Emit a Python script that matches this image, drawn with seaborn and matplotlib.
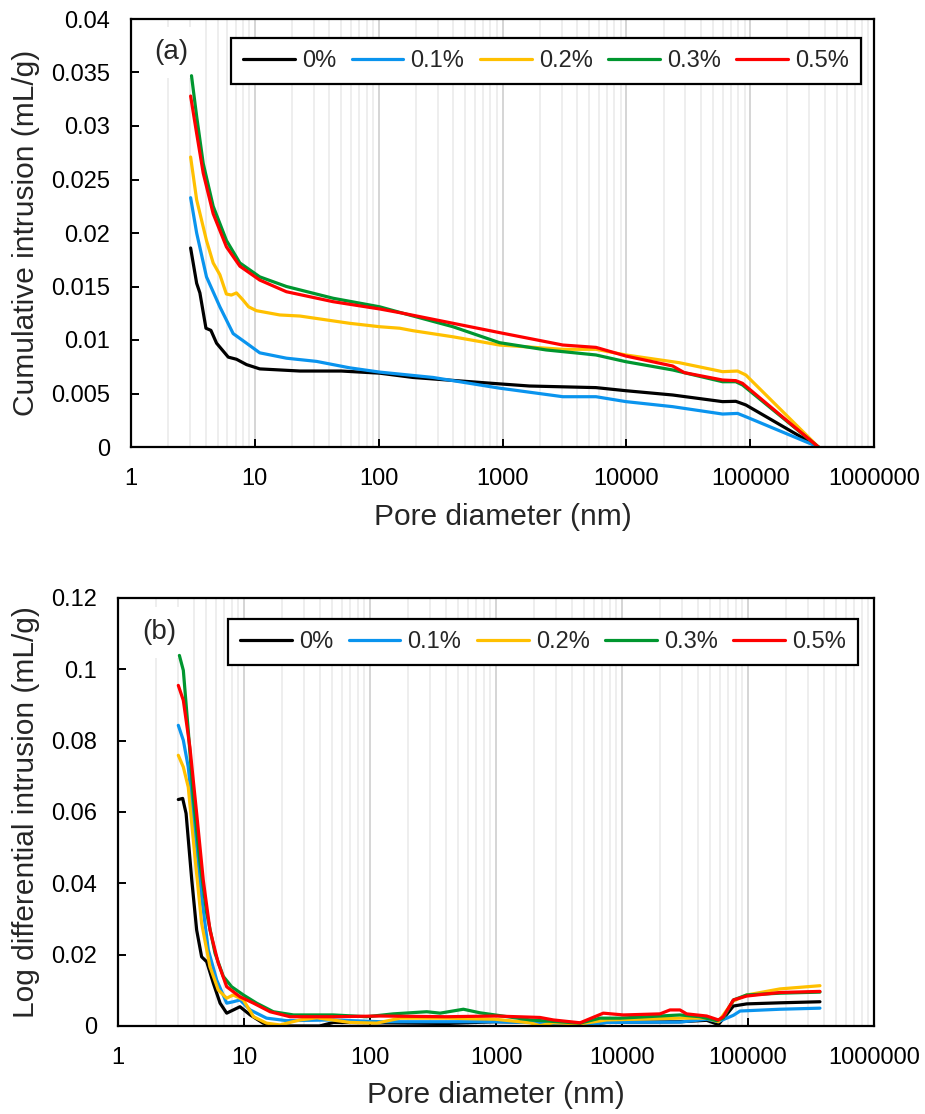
import numpy as np
import pandas as pd
import matplotlib
matplotlib.use("Agg")
import matplotlib.pyplot as plt
import matplotlib.ticker as mticker
import seaborn as sns

# ---------------- data ----------------
series = ["0%", "0.1%", "0.2%", "0.3%", "0.5%"]
colors = ["#000000", "#0A94EE", "#FFC000", "#00962F", "#FF0000"]

# (a) cumulative intrusion
a_x_0 = [3.03, 3.39, 3.6, 4.03, 4.42, 4.91, 6.1, 7.11, 8.57, 10.96, 23.1, 50, 102, 189, 946, 1650, 5690, 9930, 23660, 59840, 76560, 92260, 355600]
a_y_0 = [0.0186, 0.0153, 0.0144, 0.0111, 0.0109, 0.0097, 0.0084, 0.0082, 0.0077, 0.0073, 0.0071, 0.0071, 0.0069, 0.0065, 0.0059, 0.0057, 0.00555, 0.00526, 0.00486, 0.00424, 0.00427, 0.00393, 0.0]

a_x_1 = [3.03, 3.39, 4.07, 5.22, 6.68, 8.57, 10.96, 18.0, 31.5, 58.3, 102, 275, 946, 3070, 5690, 9930, 23660, 59840, 79070, 92260, 355600]
a_y_1 = [0.0233, 0.0200, 0.0159, 0.0131, 0.0106, 0.0097, 0.0088, 0.0083, 0.0080, 0.0074, 0.0070, 0.0065, 0.0055, 0.0047, 0.0047, 0.00424, 0.00377, 0.00308, 0.00314, 0.00283, 0.0]

a_x_2 = [3.03, 3.39, 4.07, 4.61, 5.22, 5.89, 6.46, 7.11, 7.94, 8.91, 10.3, 15.9, 23.1, 58.3, 102, 148, 189, 398, 946, 3070, 5690, 9930, 26730, 59840, 79070, 92260, 355600]
a_y_2 = [0.0271, 0.0231, 0.0193, 0.0172, 0.0161, 0.0143, 0.0142, 0.0144, 0.0138, 0.0131, 0.01274, 0.01234, 0.01224, 0.01156, 0.01124, 0.0111, 0.01087, 0.0103, 0.00953, 0.00913, 0.00913, 0.0086, 0.00788, 0.00704, 0.0071, 0.00673, 0.0]

a_x_3 = [3.08, 3.39, 3.83, 4.61, 5.90, 7.57, 10.96, 18.0, 42.9, 102, 157, 398, 946, 2250, 5690, 9930, 23660, 59840, 76560, 86700, 355600]
a_y_3 = [0.0347, 0.0309, 0.0265, 0.0225, 0.0193, 0.0172, 0.0159, 0.0150, 0.0139, 0.0131, 0.0125, 0.01124, 0.00975, 0.00907, 0.0086, 0.00797, 0.0072, 0.0061, 0.0061, 0.0058, 0.0]

a_x_5 = [3.03, 3.39, 3.83, 4.61, 5.90, 7.57, 10.96, 18.0, 42.9, 102, 157, 946, 3070, 5690, 9930, 23660, 29380, 59840, 76560, 86700, 355600]
a_y_5 = [0.0328, 0.0293, 0.0256, 0.0218, 0.0187, 0.0169, 0.0156, 0.01451, 0.01358, 0.0129, 0.0125, 0.01069, 0.00953, 0.00931, 0.0085, 0.00757, 0.00695, 0.00626, 0.0062, 0.00595, 0.0]

# (b) log differential intrusion
b_x_0 = [3.01, 3.26, 3.47, 3.85, 4.21, 4.61, 5.06, 5.71, 6.46, 7.29, 9.29, 11.2, 14.2, 18.2, 39.8, 51.2, 120, 405, 982, 2230, 4650, 7550, 28840, 47000, 58210, 76560, 97720, 179500, 372400]
b_y_0 = [0.0635, 0.0638, 0.0596, 0.0409, 0.0269, 0.0194, 0.0180, 0.0120, 0.0064, 0.0036, 0.0054, 0.0031, 0.0008, 0.0, 0.0, 0.0010, 0.0009, 0.0007, 0.0012, 0.0010, 0.0002, 0.0010, 0.0012, 0.0016, 0.0004, 0.0056, 0.0062, 0.0065, 0.0068]

b_x_1 = [3.01, 3.30, 3.61, 4.08, 4.61, 5.21, 6.07, 7.29, 8.22, 9.29, 11.2, 15.1, 21.8, 51.2, 120, 982, 2230, 4650, 7550, 28840, 47000, 58210, 76560, 86500, 179500, 372400]
b_y_1 = [0.0843, 0.0801, 0.0726, 0.0549, 0.0362, 0.0213, 0.0129, 0.0064, 0.0068, 0.0073, 0.0045, 0.0022, 0.0015, 0.0017, 0.0012, 0.0012, 0.0009, 0.0001, 0.0010, 0.0011, 0.0019, 0.0012, 0.0030, 0.0042, 0.0047, 0.0050]

b_x_2 = [3.01, 3.30, 3.61, 4.08, 4.61, 5.37, 6.25, 7.29, 8.22, 9.89, 11.9, 15.1, 19.3, 27.8, 37.8, 69.3, 113, 173, 405, 982, 1860, 2230, 2850, 4650, 7550, 28840, 47000, 58210, 76560, 97720, 179500, 372400]
b_y_2 = [0.0759, 0.0726, 0.0670, 0.0474, 0.0288, 0.0166, 0.0101, 0.0078, 0.0087, 0.0073, 0.0026, 0.0008, 0.0003, 0.0017, 0.0023, 0.0010, 0.0008, 0.0022, 0.0022, 0.0019, 0.0009, 0.0001, 0.0009, 0.0006, 0.0017, 0.0022, 0.0022, 0.0012, 0.0070, 0.0087, 0.0104, 0.0113]

b_x_3 = [3.07, 3.30, 3.61, 3.96, 4.48, 5.06, 5.89, 6.85, 7.98, 9.89, 12.6, 17.1, 24.7, 51.2, 94.2, 153, 282, 360, 551, 746, 982, 1860, 4650, 6680, 9640, 28840, 41590, 56360, 63680, 76560, 97720, 179500, 372400]
b_y_3 = [0.1039, 0.0997, 0.0829, 0.0642, 0.0456, 0.0316, 0.0204, 0.0139, 0.0110, 0.0087, 0.0064, 0.0040, 0.0031, 0.0031, 0.0026, 0.0034, 0.0040, 0.0036, 0.0047, 0.0037, 0.0031, 0.0017, 0.0008, 0.0022, 0.0022, 0.0031, 0.0026, 0.0015, 0.0022, 0.0073, 0.0087, 0.0092, 0.0095]

b_x_5 = [3.01, 3.30, 3.72, 4.21, 4.75, 5.37, 6.25, 7.29, 9.29, 11.9, 16.1, 23.2, 51.2, 120, 405, 982, 2230, 2850, 4650, 7110, 10260, 20040, 24040, 28840, 32580, 47000, 58210, 63680, 76560, 97720, 179500, 372400]
b_y_5 = [0.0955, 0.0913, 0.0782, 0.0596, 0.0409, 0.0269, 0.0176, 0.0110, 0.0082, 0.0064, 0.0040, 0.0026, 0.0026, 0.0028, 0.0026, 0.0028, 0.0024, 0.0017, 0.0009, 0.0036, 0.0031, 0.0034, 0.0045, 0.0045, 0.0034, 0.0028, 0.0017, 0.0026, 0.0073, 0.0084, 0.0094, 0.0097]

x_ticks = [1, 10, 100, 1000, 10000, 100000, 1000000]
x_tick_labels = ["1", "10", "100", "1000", "10000", "100000", "1000000"]
a_y_ticks = [0, 0.005, 0.01, 0.015, 0.02, 0.025, 0.03, 0.035, 0.04]
a_y_tick_labels = ["0", "0.005", "0.01", "0.015", "0.02", "0.025", "0.03", "0.035", "0.04"]
b_y_ticks = [0, 0.02, 0.04, 0.06, 0.08, 0.1, 0.12]
b_y_tick_labels = ["0", "0.02", "0.04", "0.06", "0.08", "0.1", "0.12"]

x_label = "Pore diameter (nm)"
a_y_label = "Cumulative intrusion (mL/g)"
b_y_label = "Log differential intrusion (mL/g)"


def long_frame(xs, ys):
    parts = []
    for name, x, y in zip(series, xs, ys):
        parts.append(pd.DataFrame({"d": x, "v": y, "series": name}))
    return pd.concat(parts, ignore_index=True)


df_a = long_frame([a_x_0, a_x_1, a_x_2, a_x_3, a_x_5], [a_y_0, a_y_1, a_y_2, a_y_3, a_y_5])
df_b = long_frame([b_x_0, b_x_1, b_x_2, b_x_3, b_x_5], [b_y_0, b_y_1, b_y_2, b_y_3, b_y_5])

# ---------------- style ----------------
sns.set_style("white")
plt.rcParams["font.family"] = ["Liberation Sans", "DejaVu Sans"]

W, H = 925, 1114
fig = plt.figure(figsize=(W / 100, H / 100), dpi=100)
ax_a = fig.add_axes([131 / W, (H - 447) / H, 743 / W, 428 / H])
ax_b = fig.add_axes([118 / W, (H - 1026) / H, 756 / W, 428 / H])

palette = dict(zip(series, colors))


def draw(ax, df, yticks, ylabels, ylabel, ymax, tag, tag_xy, leg_anchor, ylab_x, xlab_y):
    sns.lineplot(data=df, x="d", y="v", hue="series", hue_order=series, palette=palette,
                 estimator=None, sort=False, linewidth=2.3, ax=ax)
    ax.set_xscale("log")
    ax.set_xlim(1, 1000000)
    ax.set_ylim(0, ymax)
    ax.xaxis.set_major_locator(mticker.FixedLocator(x_ticks))
    ax.xaxis.set_major_formatter(mticker.FixedFormatter(x_tick_labels))
    ax.xaxis.set_minor_locator(mticker.LogLocator(base=10, subs=np.arange(2, 10), numticks=20))
    ax.xaxis.set_minor_formatter(mticker.NullFormatter())
    ax.set_yticks(yticks)
    ax.set_yticklabels(ylabels)
    ax.tick_params(axis="both", which="major", direction="in", length=6, width=1.4,
                   labelsize=17, pad=15, colors="black")
    ax.tick_params(axis="x", which="minor", length=0)
    ax.tick_params(axis="y", which="both", left=True, right=False)
    ax.tick_params(axis="x", which="both", bottom=True, top=False)
    ax.grid(False)
    ax.grid(True, which="major", axis="x", color="#D2D2D2", linewidth=1.3)
    ax.grid(True, which="minor", axis="x", color="#EDEDED", linewidth=1.3)
    ax.set_axisbelow(True)
    for sp in ax.spines.values():
        sp.set_color("black")
        sp.set_linewidth(1.6)
        sp.set_visible(True)
    ax.set_xlabel(x_label, fontsize=21.5)
    ax.set_ylabel(ylabel, fontsize=21.5)
    ax.yaxis.set_label_coords(ylab_x, 0.5)
    ax.xaxis.set_label_coords(0.5, xlab_y)

    old = ax.get_legend()
    handles = old.legend_handles
    labels = [t.get_text() for t in old.texts]
    old.remove()
    for h in handles:
        h.set_linewidth(2.3)
    leg = ax.legend(handles, labels, ncol=5, loc="upper right", bbox_to_anchor=leg_anchor,
                    borderaxespad=0, fontsize=17, frameon=True, fancybox=False, framealpha=1,
                    handlelength=2.2, handletextpad=0.3, columnspacing=0.65, borderpad=0.5)
    leg.get_frame().set_edgecolor("black")
    leg.get_frame().set_linewidth(1.6)
    leg.set_zorder(5)

    ax.text(tag_xy[0], tag_xy[1], tag, transform=ax.transAxes, fontsize=20, ha="left", va="center",
            bbox=dict(facecolor="white", edgecolor="none", pad=9), zorder=1.5)


draw(ax_a, df_a, a_y_ticks, a_y_tick_labels, a_y_label, 0.04, "(a)",
     ((154 - 131) / 743, (447 - 52) / 428), ((861 - 131) / 743, (447 - 38) / 428),
     (40 - 131) / 743, (447 - 503) / 428)
draw(ax_b, df_b, b_y_ticks, b_y_tick_labels, b_y_label, 0.12, "(b)",
     ((142 - 118) / 756, (1026 - 632) / 428), ((858 - 118) / 756, (1026 - 619) / 428),
     (40 - 118) / 756, (1026 - 1081) / 428)

fig.savefig("out.png", dpi=100, facecolor="white")
